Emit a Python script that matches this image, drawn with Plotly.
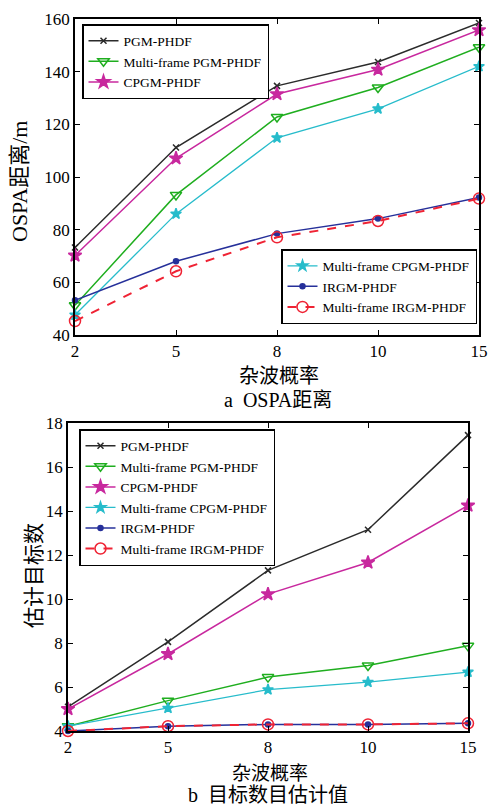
import plotly.graph_objects as go

categories = ["2", "5", "8", "10", "15"]
series_names = ["PGM-PHDF", "Multi-frame PGM-PHDF", "CPGM-PHDF",
                "Multi-frame CPGM-PHDF", "IRGM-PHDF", "Multi-frame IRGM-PHDF"]

# (a) OSPA distance / m
ospa_pgm = [73.2, 111.2, 134.6, 143.7, 158.5]
ospa_mf_pgm = [51.3, 93.2, 122.8, 134.0, 149.3]
ospa_cpgm = [70.2, 107.1, 131.5, 140.8, 155.8]
ospa_mf_cpgm = [47.6, 86.0, 114.9, 125.9, 142.0]
ospa_irgm = [53.2, 68.0, 78.5, 84.2, 92.2]
ospa_mf_irgm = [45.3, 64.2, 77.1, 83.3, 91.8]

# (b) estimated target number
num_pgm = [5.1, 8.05, 11.3, 13.15, 17.45]
num_mf_pgm = [4.22, 5.38, 6.45, 6.98, 7.87]
num_cpgm = [5.0, 7.5, 10.22, 11.66, 14.25]
num_mf_cpgm = [4.22, 5.04, 5.88, 6.22, 6.68]
num_irgm = [4.0, 4.22, 4.3, 4.3, 4.35]
num_mf_irgm = [4.0, 4.22, 4.3, 4.3, 4.35]

colors = ["#2b2b2b", "#1fae1f", "#c8289e", "#27bccb", "#26309a", "#ef2334"]
symbols = ["x-thin", "triangle-down-open", "star", "star", "circle", "circle-open"]
msizes = [6, 10, 10, 8, 5, 11]
dashes = ["solid", "solid", "solid", "solid", "solid", "dash"]
widths = [1.5, 1.5, 1.5, 1.3, 1.5, 2]

top_data = [ospa_pgm, ospa_mf_pgm, ospa_cpgm, ospa_mf_cpgm, ospa_irgm, ospa_mf_irgm]
bot_data = [num_pgm, num_mf_pgm, num_cpgm, num_mf_cpgm, num_irgm, num_mf_irgm]

SERIF = "Liberation Serif, Times New Roman, Noto Sans CJK SC, serif"
CJK = "Noto Sans CJK SC, Liberation Serif, serif"

fig = go.Figure()

for i, name in enumerate(series_names):
    fig.add_trace(go.Scatter(
        x=categories, y=top_data[i], name=name, mode="lines+markers",
        line=dict(color=colors[i], width=widths[i], dash=dashes[i]),
        marker=dict(symbol=symbols[i], size=msizes[i], color=colors[i],
                    line=dict(color=colors[i], width=1.5)),
        cliponaxis=False, xaxis="x", yaxis="y",
        legend="legend" if i in (0, 1, 2) else "legend2"))

for i, name in enumerate(series_names):
    fig.add_trace(go.Scatter(
        x=categories, y=bot_data[i], name=name, mode="lines+markers",
        line=dict(color=colors[i], width=widths[i], dash=dashes[i]),
        marker=dict(symbol=symbols[i], size=msizes[i], color=colors[i],
                    line=dict(color=colors[i], width=1.5)),
        cliponaxis=False, xaxis="x2", yaxis="y2", legend="legend3"))

W, H = 491, 808

def px(x):
    return x / W

def py(y):
    return 1 - y / H

axis_common = dict(showline=True, linecolor="black", linewidth=1.5, mirror="ticks",
                   ticks="inside", ticklen=5, tickwidth=1.2, tickcolor="black",
                   showgrid=False, zeroline=False, automargin=False,
                   tickfont=dict(family=SERIF, size=17, color="black"))

legend_common = dict(bordercolor="black", borderwidth=1.5, bgcolor="white",
                     font=dict(family=SERIF, size=13.5, color="black"),
                     itemwidth=30, tracegroupgap=0)

fig.update_layout(
    width=W, height=H, margin=dict(l=0, r=0, t=0, b=0),
    paper_bgcolor="white", plot_bgcolor="white", template="none",
    xaxis=dict(domain=[px(75), px(479)], type="category", range=[0, 4],
               anchor="y", **axis_common),
    yaxis=dict(domain=[py(335), py(19)], range=[40, 160], dtick=20,
               anchor="x", **axis_common),
    xaxis2=dict(domain=[px(68), px(468)], type="category", range=[0, 4],
                anchor="y2", **axis_common),
    yaxis2=dict(domain=[py(731), py(423)], range=[4, 18], dtick=2,
                anchor="x2", **axis_common),
    legend=dict(x=px(82), y=py(24), xanchor="left", yanchor="top", **legend_common),
    legend2=dict(x=px(477), y=py(324), xanchor="right", yanchor="bottom", **legend_common),
    legend3=dict(x=px(79), y=py(429), xanchor="left", yanchor="top", **legend_common),
    showlegend=True,
)

annotations = [
    dict(text="OSPA距离/m", x=px(20), y=py(182), textangle=-90, font=dict(family=SERIF, size=22)),
    dict(text="杂波概率", x=px(279), y=py(374), font=dict(family=CJK, size=20)),
    dict(text="a  OSPA距离", x=px(278), y=py(400), font=dict(family=SERIF, size=20)),
    dict(text="估计目标数", x=px(32), y=py(575), textangle=-90, font=dict(family=CJK, size=21)),
    dict(text="杂波概率", x=px(270), y=py(771), font=dict(family=CJK, size=19)),
    dict(text="b  目标数目估计值", x=px(268), y=py(795), font=dict(family=SERIF, size=20)),
]
for a in annotations:
    a.update(xref="paper", yref="paper", showarrow=False, xanchor="center", yanchor="middle")
    a["font"]["color"] = "black"
fig.update_layout(annotations=annotations)

fig.write_html(
    "out.html",
    config={"displayModeBar": False},
    post_script="document.body.style.margin='0';document.body.style.overflow='hidden';",
)
